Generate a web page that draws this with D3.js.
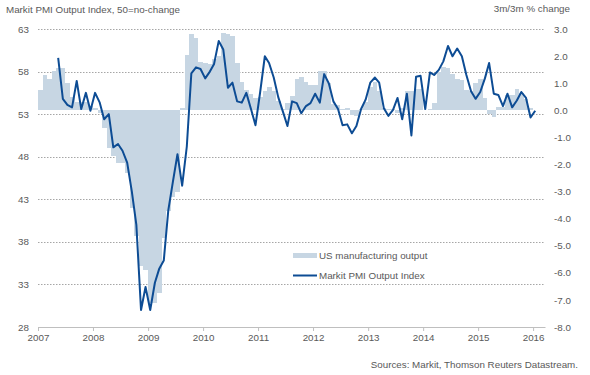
<!DOCTYPE html>
<html>
<head>
<meta charset="utf-8">
<script src="https://cdn.jsdelivr.net/npm/d3@7"></script>
<style>
    body { margin: 0; background: #fff; }
    svg text { font-family: 'Liberation Sans', Arial, sans-serif; font-size: 9.8px; fill: #595959; }
</style>
</head>
<body>
<svg id="chart-svg" width="590" height="375"></svg>
<script>
// US manufacturing output, 3m/3m % change, monthly from Jan 2007
const outputValues = [
    0.75, 1.3, 1.15, 1.45, 1.55, 1.55, 1.0, 0.5, 0.3, 0.3, 0.3, 0.15,
    0.1, -0.1, -0.66, -1.4, -1.7, -1.95, -1.95, -2.3, -3.6, -4.65, -5.75, -5.9,
    -7.1, -7.1, -6.75, -4.7, -3.7, -3.2, -3.0, 0.1, 2.05, 2.8, 2.65, 1.8,
    1.75, 1.7, 1.9, 2.0, 2.85, 2.8, 2.75, 1.75, 1.05, 0.75, 0.6, 0.45,
    0.5, 0.7, 0.85, 0.7, 0.35, 0.05, 0.27, 0.53, 1.15, 1.22, 1.05, 0.95,
    0.95, 1.45, 1.45, 1.0, 0.25, 0.2, 0.05, 0.1, -0.17, -0.2, 0.05, 0.3,
    0.85, 1.05, 0.7, 0.1, 0.05, 0.05, -0.1, 0.1, 0.72, 0.72, 0.8, 0.78,
    0.0, 0.05, 0.28, 1.4, 1.6, 1.55, 1.35, 1.15, 1.1, 0.75, 0.7, 1.0,
    1.15, 0.45, -0.12, -0.26, 0.12, 0.12, 0.55, 0.55, 0.77, 0.65, 0.4, 0.1
];

// Markit PMI Output Index, monthly from May 2007
const pmiValues = [
    59.6, 54.8, 54.1, 53.8, 56.9, 53.6, 55.5, 53.4,
    55.5, 54.35, 52.4, 53.0, 49.1, 49.5, 48.7, 47.3, 43.9, 40.0, 30.0, 32.7,
    30.0, 33.2, 34.8, 35.8, 41.7, 45.1, 48.3, 44.6, 49.2, 57.8, 58.5, 58.3,
    57.2, 58.0, 58.9, 61.6, 60.6, 56.1, 56.7, 54.5, 54.35, 55.5, 53.6, 51.7,
    55.6, 59.8, 59.0, 57.3, 55.0, 53.3, 51.6, 54.5, 54.3, 53.1, 53.95, 54.3,
    55.4, 54.35, 57.7, 56.6, 54.5, 53.6, 51.7, 51.8, 50.75, 51.6, 53.6, 54.7,
    56.7, 57.3, 56.7, 53.7, 52.8, 53.5, 54.9, 52.4, 55.4, 50.5, 57.4, 57.5,
    53.6, 57.9, 57.6, 58.2, 59.2, 61.0, 59.8, 60.7, 59.8, 57.6, 55.7, 54.8,
    55.6, 57.2, 59.0, 55.4, 55.25, 53.95, 55.4, 53.8, 54.6, 55.6, 54.9, 52.6,
    53.4
];

const leftTicks = [28, 33, 38, 43, 48, 53, 58, 63];
const rightTicks = [-8, -7, -6, -5, -4, -3, -2, -1, 0, 1, 2, 3];
const yearTicks = [2007, 2008, 2009, 2010, 2011, 2012, 2013, 2014, 2015, 2016];

const margin = { left: 38, right: 45, top: 29, bottom: 48 };
const size = { width: 590, height: 375 };

const outputData = outputValues.map((v, i) => ({ month: new Date(2007, i, 1), value: v }));
const pmiData = pmiValues.map((v, i) => ({ month: new Date(2007, 4 + i, 1), value: v }));

const x = d3.scaleTime()
    .domain([new Date(2007, 0, 1), new Date(2016, 2, 20)])
    .range([margin.left, size.width - margin.right]);

const yLeft = d3.scaleLinear()
    .domain([28, 63])
    .range([size.height - margin.bottom, margin.top]);

const yRight = d3.scaleLinear()
    .domain([-8, 3])
    .range([size.height - margin.bottom, margin.top]);

const midMonth = d => new Date(d.getFullYear(), d.getMonth(), 15);
const nextMonth = d => new Date(d.getFullYear(), d.getMonth() + 1, 1);

const svg = d3.select('#chart-svg');

// Gridlines (dotted) at the left axis ticks
svg.append('g')
    .attr('class', 'grid')
    .selectAll('line')
    .data(leftTicks.filter(t => t !== 28))
    .enter().append('line')
    .attr('x1', margin.left)
    .attr('x2', size.width - margin.right)
    .attr('y1', d => Math.round(yLeft(d)) + 0.5)
    .attr('y2', d => Math.round(yLeft(d)) + 0.5)
    .attr('stroke', '#a6a6a6')
    .attr('stroke-width', 1)
    .attr('stroke-dasharray', '1.5,1.5');

// Bars: US manufacturing output on the right axis
svg.append('g')
    .attr('class', 'bars')
    .selectAll('rect')
    .data(outputData)
    .enter().append('rect')
    .attr('x', d => x(d.month))
    .attr('width', d => x(nextMonth(d.month)) - x(d.month))
    .attr('y', d => yRight(Math.max(0, d.value)))
    .attr('height', d => Math.abs(yRight(d.value) - yRight(0)))
    .attr('fill', '#c7d6e3')
    .attr('shape-rendering', 'crispEdges');

// PMI line on the left axis
const line = d3.line()
    .x(d => x(midMonth(d.month)))
    .y(d => yLeft(d.value));

svg.append('path')
    .datum(pmiData)
    .attr('d', line)
    .attr('fill', 'none')
    .attr('stroke', '#0d4c94')
    .attr('stroke-width', 2)
    .attr('stroke-linejoin', 'round');

// X axis
const xAxis = d3.axisBottom(x)
    .tickValues(yearTicks.map(yr => new Date(yr, 0, 1)))
    .tickFormat(d3.timeFormat('%Y'))
    .tickSizeInner(4)
    .tickSizeOuter(0)
    .tickPadding(3);

svg.append('g')
    .attr('class', 'x-axis')
    .attr('transform', `translate(0,${size.height - margin.bottom})`)
    .call(xAxis)
    .call(g => g.selectAll('.domain, line').attr('stroke', '#bfbfbf'))
    .call(g => g.selectAll('text').attr('fill', '#595959').style('font-size', '9.8px'));

// Left axis labels
svg.append('g')
    .attr('class', 'y-axis-left')
    .attr('transform', `translate(${margin.left},0)`)
    .call(d3.axisLeft(yLeft).tickValues(leftTicks).tickSize(0).tickPadding(9))
    .call(g => g.select('.domain').remove())
    .call(g => g.selectAll('text').attr('fill', '#595959').style('font-size', '9.8px'));

// Right axis labels
svg.append('g')
    .attr('class', 'y-axis-right')
    .attr('transform', `translate(${size.width - margin.right},0)`)
    .call(d3.axisRight(yRight).tickValues(rightTicks).tickSize(0).tickPadding(9)
        .tickFormat(d => d.toFixed(1)))
    .call(g => g.select('.domain').remove())
    .call(g => g.selectAll('text').attr('fill', '#595959').style('font-size', '9.8px'));

// Axis titles
svg.append('text')
    .attr('x', 6)
    .attr('y', 13)
    .text('Markit PMI Output Index, 50=no-change');

svg.append('text')
    .attr('x', 570)
    .attr('y', 12)
    .style('text-anchor', 'end')
    .text('3m/3m % change');

// Legend
const legend = svg.append('g')
    .attr('class', 'legend')
    .attr('transform', 'translate(293, 253)');

legend.append('rect')
    .attr('x', 0)
    .attr('y', 0)
    .attr('width', 24)
    .attr('height', 5)
    .attr('fill', '#c7d6e3');

legend.append('text')
    .attr('x', 26)
    .attr('y', 3)
    .attr('dy', '0.35em')
    .attr('fill', '#404040')
    .text('US manufacturing output');

legend.append('line')
    .attr('x1', 0)
    .attr('x2', 24)
    .attr('y1', 22.5)
    .attr('y2', 22.5)
    .attr('stroke', '#0d4c94')
    .attr('stroke-width', 2);

legend.append('text')
    .attr('x', 26)
    .attr('y', 23)
    .attr('dy', '0.35em')
    .attr('fill', '#404040')
    .text('Markit PMI Output Index');

// Source note
svg.append('text')
    .attr('x', 578)
    .attr('y', 368)
    .style('text-anchor', 'end')
    .text('Sources: Markit, Thomson Reuters Datastream.');
</script>
</body>
</html>
